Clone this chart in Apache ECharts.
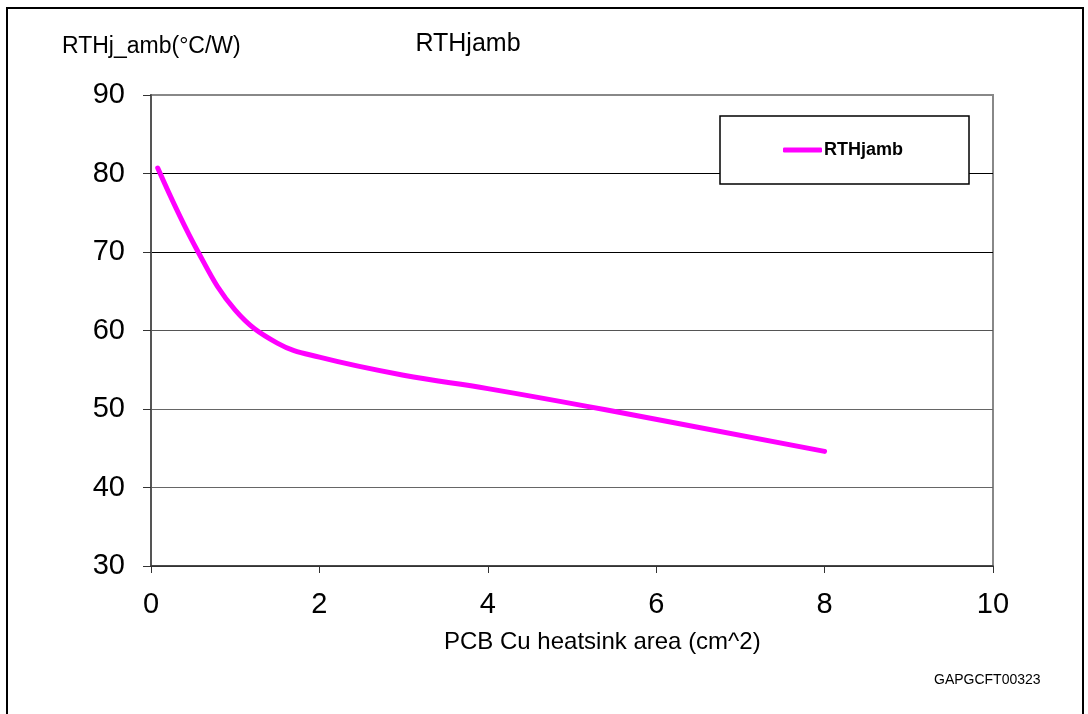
<!DOCTYPE html>
<html>
<head>
<meta charset="utf-8">
<title>RTHjamb</title>
<script src="https://cdn.jsdelivr.net/npm/echarts@6/dist/echarts.min.js"></script>
<style>
    html, body { margin: 0; padding: 0; background: #fff; }
    #chart { width: 1088px; height: 714px; }
</style>
</head>
<body>
<div id="chart"></div>
<script>
    // values
    var seriesName = 'RTHjamb';
    var areaCm2 = [0.08, 0.56, 1.0, 1.5, 2.0, 3.0, 4.0, 5.4, 8.0];
    var rthAmb = [80.7, 70.0, 62.6, 58.4, 56.6, 54.3, 52.6, 49.9, 44.6];
    var xTicks = [0, 2, 4, 6, 8, 10];
    var yTicks = [30, 40, 50, 60, 70, 80, 90];

    var points = [];
    for (var i = 0; i < areaCm2.length; i++) {
        points.push([areaCm2[i], rthAmb[i]]);
    }

    var chart = echarts.init(document.getElementById('chart'));
    window.addEventListener('resize', function () { chart.resize(); });

    var font = '"Liberation Sans", Arial, sans-serif';

    chart.setOption({
        animation: false,
        backgroundColor: '#fff',
        textStyle: { fontFamily: font },
        title: {
            text: 'RTHjamb',
            left: 463,
            top: 27,
            textAlign: 'center',
            textStyle: { fontSize: 25, fontWeight: 'normal', color: '#000', fontFamily: font }
        },
        graphic: [
            {
                type: 'rect',
                z: -1,
                shape: { x: 7, y: 8, width: 1076, height: 720 },
                style: { fill: 'none', stroke: '#000', lineWidth: 2 }
            },
            {
                type: 'text',
                left: 62,
                top: 35,
                style: { text: 'RTHj_amb(°C/W)', fontSize: 23, fill: '#000', fontFamily: font }
            },
            {
                type: 'text',
                left: 444,
                top: 630,
                style: { text: 'PCB Cu heatsink area (cm^2)', fontSize: 24, fill: '#000', fontFamily: font }
            },
            {
                type: 'text',
                left: 934,
                top: 673,
                style: { text: 'GAPGCFT00323', fontSize: 14, fill: '#000', fontFamily: font }
            }
        ],
        legend: {
            left: 720,
            top: 116,
            padding: [25, 66, 25, 63],
            backgroundColor: '#fff',
            borderColor: '#000',
            borderWidth: 1.5,
            icon: 'roundRect',
            itemWidth: 39,
            itemHeight: 5,
            data: [seriesName],
            textStyle: { fontSize: 18, fontWeight: 'bold', color: '#000', fontFamily: font, padding: [0, 0, 0, -3] }
        },
        grid: {
            left: 151,
            right: 95,
            top: 95,
            bottom: 148,
            show: true,
            borderColor: '#888',
            borderWidth: 2
        },
        xAxis: {
            type: 'value',
            min: xTicks[0],
            max: xTicks[xTicks.length - 1],
            interval: 2,
            axisLine: { show: true, lineStyle: { color: '#333', width: 1.5 } },
            axisTick: { show: true, length: 7, lineStyle: { color: '#333' } },
            axisLabel: { fontSize: 29, color: '#000', margin: 24, fontFamily: font },
            splitLine: { show: false }
        },
        yAxis: {
            type: 'value',
            min: yTicks[0],
            max: yTicks[yTicks.length - 1],
            interval: 10,
            axisLine: { show: true, lineStyle: { color: '#555', width: 2 } },
            axisTick: { show: true, length: 8, lineStyle: { color: '#333' } },
            axisLabel: { fontSize: 29, color: '#000', margin: 26, fontFamily: font },
            splitLine: {
                show: true,
                lineStyle: { color: ['#333', '#666', '#666', '#555', '#000', '#000', '#888'], width: 1.2 }
            }
        },
        series: [{
            name: seriesName,
            type: 'line',
            data: points,
            smooth: 0.4,
            symbol: 'none',
            lineStyle: { color: '#ff00ff', width: 5, cap: 'round' },
            itemStyle: { color: '#ff00ff' }
        }]
    });
</script>
</body>
</html>
